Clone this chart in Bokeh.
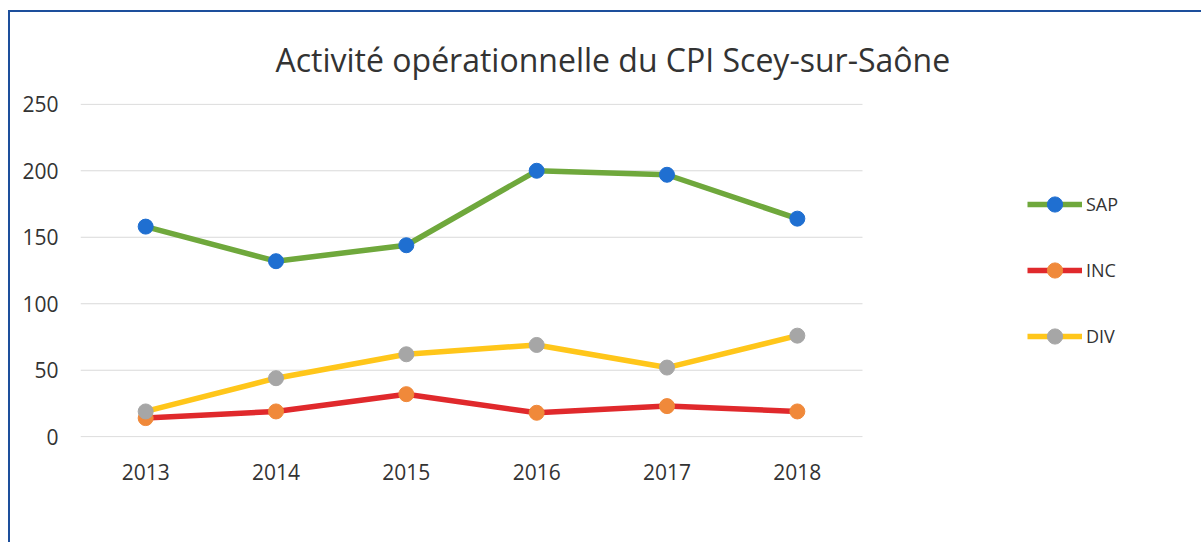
from bokeh.plotting import figure
from bokeh.models import Range1d, FixedTicker, Legend, LegendItem
from bokeh.embed import file_html
from bokeh.resources import INLINE

years = ["2013", "2014", "2015", "2016", "2017", "2018"]
sap = [158, 132, 144, 200, 197, 164]
inc = [14, 19, 32, 18, 23, 19]
div = [19, 44, 62, 69, 52, 76]
y_ticks = [0, 50, 100, 150, 200, 250]
title_text = "Activité opérationnelle du CPI Scey-sur-Saône"

xs = list(range(len(years)))

W, H = 1193, 532
LEFT = 70
cat_px = 782 / len(years)            # pixel width of one category slot
frame_w = W - LEFT
x_start = -0.5
x_end = x_start + frame_w / cat_px

p = figure(width=W, height=H, x_range=Range1d(x_start, x_end), y_range=Range1d(-0.6, 250.6),
           output_backend="svg", toolbar_location=None,
           min_border_left=LEFT, min_border_right=0,
           min_border_top=91, min_border_bottom=107)
p.styles = {"border-top": "2px solid #1d4f9c", "border-left": "2px solid #1d4f9c",
            "border-right": "none", "border-bottom": "none",
            "margin-left": "8px", "margin-top": "10px"}
p.border_fill_color = "white"

p.title.text = title_text
p.title.text_font = "Open Sans"
p.title.text_font_size = "32px"
p.title.text_font_style = "normal"
p.title.text_color = "#333333"
p.title.align = "left"
p.title.offset = 195
p.title.standoff = 45

p.outline_line_color = None
p.xgrid.grid_line_color = None
p.ygrid.grid_line_color = None
# horizontal gridlines spanning only the category area
p.segment(x0=[x_start] * len(y_ticks), x1=[len(years) - 0.5] * len(y_ticks),
          y0=y_ticks, y1=y_ticks, line_color="#d9d9d9", line_width=1)

p.xaxis.ticker = FixedTicker(ticks=xs)
p.xaxis.major_label_overrides = {i: y for i, y in enumerate(years)}
p.yaxis.ticker = FixedTicker(ticks=y_ticks)
for ax in (p.xaxis, p.yaxis):
    ax.axis_line_color = None
    ax.major_tick_line_color = None
    ax.minor_tick_line_color = None
    ax.major_label_text_font = "Open Sans"
    ax.major_label_text_font_size = "21px"
    ax.major_label_text_color = "#333333"
p.yaxis.major_label_standoff = 16
p.xaxis.major_label_standoff = 20

series = [
    ("SAP", sap, "#6fa83c", "#1f6fd1"),
    ("INC", inc, "#e0292c", "#f0893a"),
    ("DIV", div, "#ffc61a", "#a6a6a6"),
]
items = []
for name, vals, lc, mc in series:
    l = p.line(xs, vals, line_color=lc, line_width=5.5)
    s = p.scatter(xs, vals, size=15, fill_color=mc, line_color=mc)
    items.append(LegendItem(label=name, renderers=[l, s]))

legend = Legend(items=items, location=(947, 82), orientation="vertical",
                padding=0, margin=0, spacing=28, glyph_width=55, glyph_height=38,
                label_height=20, label_standoff=4,
                label_text_font="Open Sans", label_text_font_size="18px",
                label_text_color="#333333",
                border_line_alpha=0, background_fill_alpha=0)
p.add_layout(legend, "center")

open("out.html", "w").write(file_html(p, INLINE))
